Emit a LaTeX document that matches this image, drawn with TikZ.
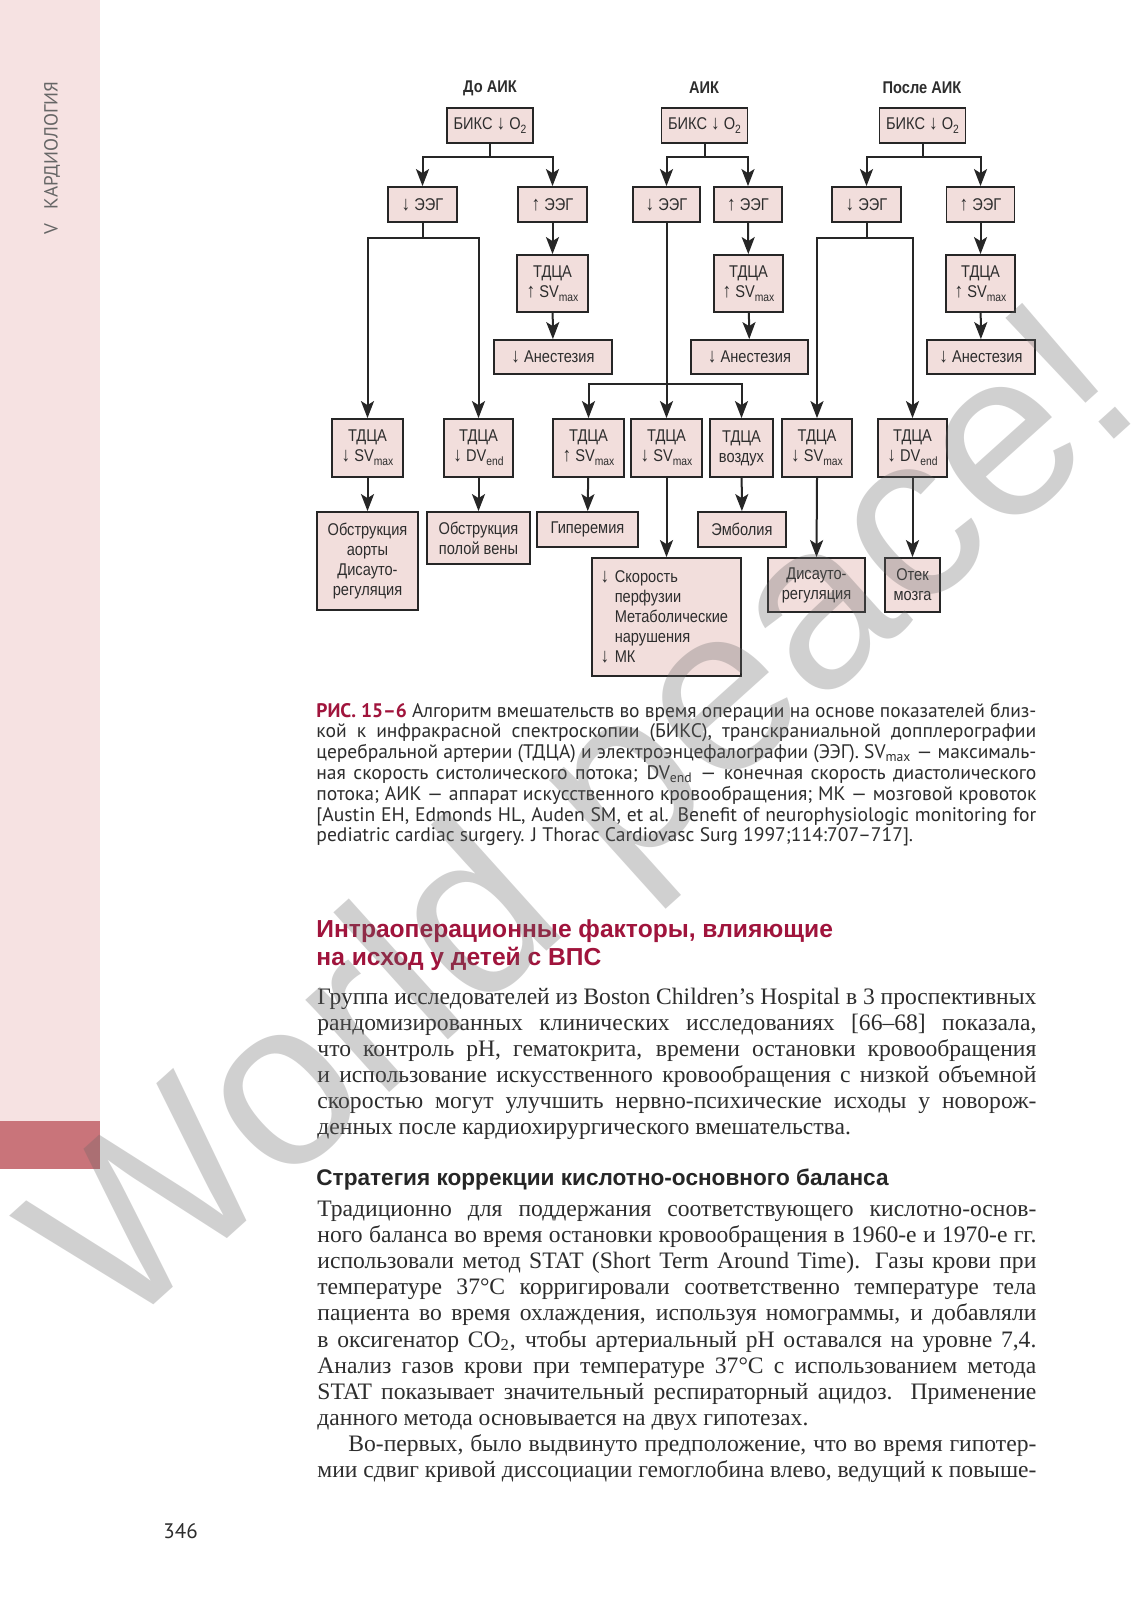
\documentclass[tikz,border=0pt]{standalone}
\usepackage{fontspec}
\usepackage{graphicx}
\setmainfont{Liberation Serif}
\newfontfamily\dg[FakeStretch=0.86]{Liberation Sans}
\newfontfamily\capf{PT Sans}
\newfontfamily\hdf{Liberation Sans}
\usetikzlibrary{arrows.meta,calc}
\definecolor{sidepink}{RGB}{246,226,226}
\definecolor{sidedark}{RGB}{201,116,122}
\definecolor{boxc}{RGB}{242,222,220}
\definecolor{crim}{RGB}{160,20,60}
\definecolor{txt}{RGB}{45,45,45}
\newcommand\lowi[1]{\raisebox{-0.45ex}{\fontsize{6}{6}\selectfont #1}}
\newcommand\dn{{\fontsize{10}{10}\selectfont ↓}}
\newcommand\up{{\fontsize{10}{10}\selectfont ↑}}
\newcommand\fitline[2]{\sbox0{#2}\ifdim\wd0>#1\relax\resizebox{#1}{\ht0}{#2}\else\makebox[#1][s]{#2}\fi}
\newcommand\jl[1]{\fitline{360pt}{#1}}
\newcommand\bl[1]{\fitline{359.5pt}{#1}}
\begin{document}
\begin{tikzpicture}[x=0.5pt,y=-0.5pt,
  bx/.style={draw=black!85, line width=0.9pt, fill=boxc, inner sep=0pt, align=center,
    font=\dg\fontsize{8.5}{10}\selectfont, text=txt},
  hd/.style={font=\dg\bfseries\fontsize{8.5}{10}\selectfont, text=txt, inner sep=0pt},
  ln/.style={line width=1pt, draw=black!85},
  arr/.style={ln, -{Stealth[length=8.5pt,width=6.5pt,inset=2pt]}},
  capt/.style={anchor=base west, inner sep=0pt, font=\capf\fontsize{9.8}{10}\selectfont, text=txt},
  body/.style={anchor=base west, inner sep=0pt, font=\fontsize{11.8}{13}\selectfont, text=txt}]
\useasboundingbox (0,0) rectangle (1133,1600);
\fill[white] (0,0) rectangle (1133,1600);
% sidebar
\fill[sidepink] (0,0) rectangle (100,1121);
\fill[sidedark] (0,1121) rectangle (100,1169);
\node[rotate=90, inner sep=0pt, text=black!60, font=\capf\fontsize{9.5}{11}\selectfont] (side) at (52,158) {V\hspace{7pt}КАРДИОЛОГИЯ};
% column headings
\node[hd] (h1) at (490,88) {До АИК};
\node[hd] (h2) at (704,88) {АИК};
\node[hd] (h3) at (922,88) {После АИК};
% top boxes
\node[bx, minimum width=43pt, minimum height=17.5pt] (b1) at (490,125.5) {БИКС \dn{} O\lowi{2}};
\node[bx, minimum width=43pt, minimum height=17.5pt] (b2) at (704.5,125.5) {БИКС \dn{} O\lowi{2}};
\node[bx, minimum width=43pt, minimum height=17.5pt] (b3) at (922.5,125.5) {БИКС \dn{} O\lowi{2}};
% EEG boxes
\node[bx, minimum width=34.5pt, minimum height=17.5pt] (e1d) at (422.5,204.5) {\dn{} ЭЭГ};
\node[bx, minimum width=34.5pt, minimum height=17.5pt] (e1u) at (552.5,204.5) {\up{} ЭЭГ};
\node[bx, minimum width=33.5pt, minimum height=17.5pt] (e2d) at (666.5,204.5) {\dn{} ЭЭГ};
\node[bx, minimum width=34pt, minimum height=17.5pt] (e2u) at (748,204.5) {\up{} ЭЭГ};
\node[bx, minimum width=34.5pt, minimum height=17.5pt] (e3d) at (866.5,204.5) {\dn{} ЭЭГ};
\node[bx, minimum width=34pt, minimum height=17.5pt] (e3u) at (980.5,204.5) {\up{} ЭЭГ};
% TDCA up boxes
\node[bx, minimum width=35.5pt, minimum height=28.5pt] (t1) at (552.5,283.5) {ТДЦА\\\up{} SV\lowi{max}};
\node[bx, minimum width=34.5pt, minimum height=28.5pt] (t2) at (748.5,283.5) {ТДЦА\\\up{} SV\lowi{max}};
\node[bx, minimum width=34.5pt, minimum height=28.5pt] (t3) at (980.5,283.5) {ТДЦА\\\up{} SV\lowi{max}};
% anesthesia
\node[bx, minimum width=59pt, minimum height=17pt] (a1) at (553,357) {\dn{} Анестезия};
\node[bx, minimum width=58.5pt, minimum height=17pt] (a2) at (749.5,357) {\dn{} Анестезия};
\node[bx, minimum width=54pt, minimum height=17pt] (a3) at (981,357) {\dn{} Анестезия};
% TDCA row
\node[bx, minimum width=35.5pt, minimum height=29pt] (A1) at (367.5,448) {ТДЦА\\\dn{} SV\lowi{max}};
\node[bx, minimum width=34.5pt, minimum height=29pt] (A2) at (478.5,448) {ТДЦА\\\dn{} DV\lowi{end}};
\node[bx, minimum width=35.5pt, minimum height=29pt] (B1) at (588.5,448) {ТДЦА\\\up{} SV\lowi{max}};
\node[bx, minimum width=35.5pt, minimum height=29pt] (B2) at (666.5,448) {ТДЦА\\\dn{} SV\lowi{max}};
\node[bx, minimum width=31.5pt, minimum height=29pt] (B3) at (741.5,448) {ТДЦА\\воздух};
\node[bx, minimum width=35pt, minimum height=29pt] (C1) at (817,448) {ТДЦА\\\dn{} SV\lowi{max}};
\node[bx, minimum width=34.5pt, minimum height=29pt] (C2) at (912.5,448) {ТДЦА\\\dn{} DV\lowi{end}};
% outcomes
\node[bx, minimum width=50.5pt, minimum height=49pt] (O1) at (367.5,561) {Обструкция\\аорты\\Дисауто-\\регуляция};
\node[bx, minimum width=51.5pt, minimum height=26pt] (O2) at (478.5,538) {Обструкция\\полой вены};
\node[bx, minimum width=50.5pt, minimum height=17.5pt] (G) at (587.5,529.5) {Гиперемия};
\node[bx, minimum width=44pt, minimum height=17.5pt] (E) at (742,529.5) {Эмболия};
\node[bx, text width=66pt, inner xsep=4.25pt, align=left, minimum height=59pt] (S) at (666.5,617)
  {\dn{} Скорость\\\hphantom{\dn{} }перфузии\\\hphantom{\dn{} }Метаболические\\\hphantom{\dn{} }нарушения\\\dn{} МК};
\node[bx, minimum width=48.5pt, minimum height=27pt] (D) at (816.5,585) {Дисауто-\\регуляция};
\node[bx, minimum width=27.5pt, minimum height=27pt] (O3) at (912.5,585) {Отек\\мозга};
% connectors: top splits
\coordinate (s1) at (490,157);
\coordinate (s2) at (704.5,157);
\coordinate (s3) at (922.5,157);
\draw[ln] (b1.south) -- (s1);
\draw[arr] (s1) -| (e1d.north);
\draw[arr] (s1) -| (e1u.north);
\draw[ln] (b2.south) -- (s2);
\draw[arr] (s2) -| (e2d.north);
\draw[arr] (s2) -| (e2u.north);
\draw[ln] (b3.south) -- (s3);
\draw[arr] (s3) -| (e3d.north);
\draw[arr] (s3) -| (e3u.north);
% up-EEG chains
\draw[arr] (e1u) -- (t1);
\draw[arr] (t1) -- (a1);
\draw[arr] (e2u) -- (t2);
\draw[arr] (t2) -- (a2);
\draw[arr] (e3u) -- (t3);
\draw[arr] (t3) -- (a3);
% down-EEG splits
\coordinate (s4) at (422.5,238);
\draw[ln] (e1d.south) -- (s4);
\draw[arr] (s4) -| (A1.north);
\draw[arr] (s4) -| (A2.north);
\coordinate (s6) at (866.5,238);
\draw[ln] (e3d.south) -- (s6);
\draw[arr] (s6) -| (C1.north);
\draw[arr] (s6) -| (C2.north);
\draw[arr] (e2d.south) -- (B2.north);
\coordinate (s5) at (666.5,384);
\draw[arr] (s5) -| (B1.north);
\draw[arr] (s5) -| (B3.north);
% outcome arrows
\draw[arr] (A1) -- (O1);
\draw[arr] (A2) -- (O2);
\draw[arr] (B1) -- (G);
\draw[arr] (B2.south) -- (S.north);
\draw[arr] (B3) -- (E);
\draw[arr] (C1.south) -- (D.north);
\draw[arr] (C2.south) -- (O3.north);
% caption
\node[capt] (c1) at (316,717) {\jl{{\bfseries\color{crim}РИС. 15–6} Алгоритм вмешательств во время операции на основе показателей близ-}};
\node[capt] (c2) at (316,737.8) {\jl{кой к инфракрасной спектроскопии (БИКС), транскраниальной допплерографии}};
\node[capt] (c3) at (316,758.6) {\jl{церебральной артерии (ТДЦА) и электроэнцефалографии (ЭЭГ). SV\textsubscript{max} — максималь-}};
\node[capt] (c4) at (316,779.4) {\jl{ная скорость систолического потока; DV\textsubscript{end} — конечная скорость диастолического}};
\node[capt] (c5) at (316,800.2) {\jl{потока; АИК — аппарат искусственного кровообращения; МК — мозговой кровоток}};
\node[capt] (c6) at (316,821) {\jl{[Austin EH, Edmonds HL, Auden SM, et al. Benefit of neurophysiologic monitoring for}};
\node[capt] (c7) at (316,841.8) {pediatric cardiac surgery. J Thorac Cardiovasc Surg 1997;114:707–717].};
% section heading
\node[anchor=base west, inner sep=0pt, font=\hdf\bfseries\fontsize{12.3}{14}\selectfont, text=crim] (hA) at (316,937) {Интраоперационные факторы, влияющие};
\node[anchor=base west, inner sep=0pt, font=\hdf\bfseries\fontsize{12.3}{14}\selectfont, text=crim] (hB) at (316,965) {на исход у детей с ВПС};
% paragraph 1
\node[body] (p1) at (317,1004) {\bl{Группа исследователей из Boston Children’s Hospital в 3 проспективных}};
\node[body] (p2) at (317,1030) {\bl{рандомизированных клинических исследованиях [66–68] показала,}};
\node[body] (p3) at (317,1056) {\bl{что контроль pH, гематокрита, времени остановки кровообращения}};
\node[body] (p4) at (317,1082) {\bl{и использование искусственного кровообращения с низкой объемной}};
\node[body] (p5) at (317,1108) {\bl{скоростью могут улучшить нервно-психические исходы у новорож-}};
\node[body] (p6) at (317,1134) {денных после кардиохирургического вмешательства.};
% subheading
\node[anchor=base west, inner sep=0pt, font=\hdf\bfseries\fontsize{11.3}{12}\selectfont, text=black!85] (hC) at (316,1185) {Стратегия коррекции кислотно-основного баланса};
% paragraph 2
\node[body] (q1) at (317,1216.5) {\bl{Традиционно для поддержания соответствующего кислотно-основ-}};
\node[body] (q2) at (317,1242.6) {\bl{ного баланса во время остановки кровообращения в 1960-е и 1970-е гг.}};
\node[body] (q3) at (317,1268.7) {\bl{использовали метод STAT (Short Term Around Time). Газы крови при}};
\node[body] (q4) at (317,1294.8) {\bl{температуре 37°C корригировали соответственно температуре тела}};
\node[body] (q5) at (317,1320.9) {\bl{пациента во время охлаждения, используя номограммы, и добавляли}};
\node[body] (q6) at (317,1347) {\bl{в оксигенатор CO\textsubscript{2}, чтобы артериальный pH оставался на уровне 7,4.}};
\node[body] (q7) at (317,1373.1) {\bl{Анализ газов крови при температуре 37°C с использованием метода}};
\node[body] (q8) at (317,1399.2) {\bl{STAT показывает значительный респираторный ацидоз. Применение}};
\node[body] (q9) at (317,1425.3) {данного метода основывается на двух гипотезах.};
\node[body] (r1) at (317,1451.4) {\bl{\hspace{15.5pt}Во-первых, было выдвинуто предположение, что во время гипотер-}};
\node[body] (r2) at (317,1477.5) {\bl{мии сдвиг кривой диссоциации гемоглобина влево, ведущий к повыше-}};
% page number
\node[anchor=base west, inner sep=0pt, font=\capf\fontsize{10.5}{12}\selectfont, text=txt] (pg) at (163,1538) {346};
% watermark
\node[rotate=42, inner sep=0pt, opacity=0.3, text=black!60, font=\hdf\fontsize{118}{118}\selectfont] (wm) at (592,828) {World peace!};
\end{tikzpicture}
\end{document}
